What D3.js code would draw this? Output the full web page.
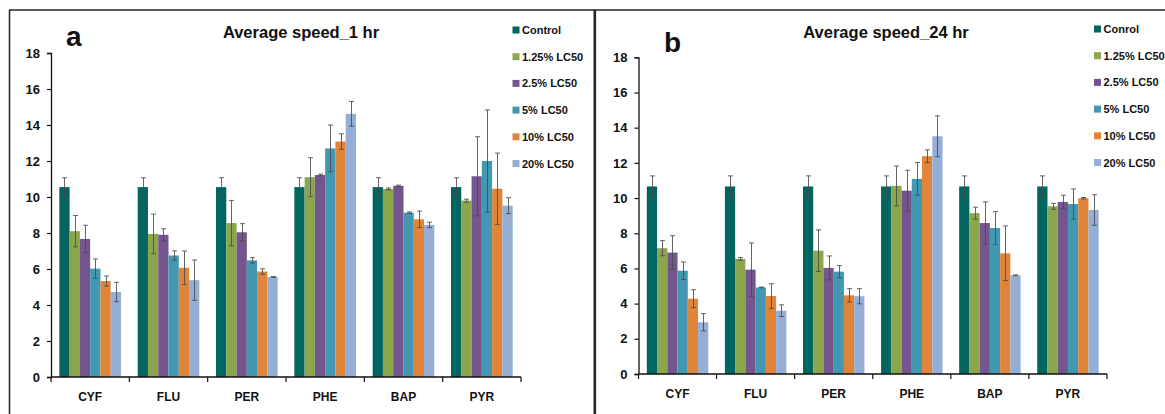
<!DOCTYPE html>
<html>
<head>
<meta charset="utf-8">
<script src="https://cdn.jsdelivr.net/npm/d3@7"></script>
<style>
  html, body { margin: 0; padding: 0; background: #fff; }
  svg { display: block; font-family: "Liberation Sans", Arial, sans-serif; }
</style>
</head>
<body>
<svg id="chart" width="1165" height="414"></svg>
<script>
// ---------- DATA ----------
const categories = ["CYF", "FLU", "PER", "PHE", "BAP", "PYR"];
const seriesA = ["Control", "1.25% LC50", "2.5% LC50", "5% LC50", "10% LC50", "20% LC50"];
const seriesB = ["Conrol", "1.25% LC50", "2.5% LC50", "5% LC50", "10% LC50", "20% LC50"];
const yTicks = [0, 2, 4, 6, 8, 10, 12, 14, 16, 18];
const colors = ["#00665f", "#8ba64d", "#73568e", "#4398b1", "#e0843a", "#94aed5"];

// Average speed 1 hr: one row per series, one value per category
const mean1h = [
  [10.55, 10.55, 10.55, 10.55, 10.55, 10.55],
  [8.1, 7.95, 8.55, 11.1, 10.45, 9.8],
  [7.67, 7.9, 8.04, 11.22, 10.62, 11.15],
  [6.02, 6.75, 6.48, 12.7, 9.13, 12.0],
  [5.33, 6.07, 5.86, 13.08, 8.76, 10.46],
  [4.72, 5.38, 5.56, 14.62, 8.45, 9.52]
];
const err1h = [
  [0.52, 0.52, 0.52, 0.52, 0.52, 0.52],
  [0.87, 1.1, 1.26, 1.08, 0.05, 0.08],
  [0.76, 0.33, 0.48, 0.05, 0.04, 2.2],
  [0.54, 0.26, 0.15, 1.3, 0.04, 2.84],
  [0.28, 0.93, 0.15, 0.43, 0.46, 1.98],
  [0.54, 1.12, 0.02, 0.69, 0.15, 0.44]
];

// Average speed 24 hr
const mean24h = [
  [10.66, 10.66, 10.66, 10.66, 10.66, 10.66],
  [7.15, 6.54, 7.01, 10.69, 9.14, 9.53],
  [6.9, 5.93, 6.03, 10.42, 8.58, 9.78],
  [5.87, 4.92, 5.82, 11.09, 8.3, 9.66],
  [4.28, 4.43, 4.47, 12.38, 6.86, 9.99],
  [2.94, 3.6, 4.42, 13.51, 5.61, 9.32]
];
const err24h = [
  [0.6, 0.6, 0.6, 0.6, 0.6, 0.6],
  [0.43, 0.08, 1.18, 1.13, 0.34, 0.17],
  [0.96, 1.52, 0.68, 1.16, 1.2, 0.38],
  [0.5, 0.02, 0.34, 0.93, 0.93, 0.86],
  [0.51, 0.7, 0.38, 0.36, 1.55, 0.04],
  [0.49, 0.33, 0.43, 1.16, 0.02, 0.87]
];

// ---------- DRAW ----------
const svg = d3.select("#chart");

// frames
svg.append("line").attr("x1", 9.5).attr("x2", 9.5).attr("y1", 10).attr("y2", 414)
  .attr("stroke", "#222").attr("stroke-width", 1.5);
svg.append("line").attr("x1", 9).attr("x2", 1165).attr("y1", 10).attr("y2", 10)
  .attr("stroke", "#222").attr("stroke-width", 1.5);
svg.append("line").attr("x1", 594.8).attr("x2", 594.8).attr("y1", 10).attr("y2", 414)
  .attr("stroke", "#222").attr("stroke-width", 2.6);

function panel(opts) {
  const g = svg.append("g");
  const x = d3.scaleBand().domain(categories).range([opts.x0, opts.x1])
    .paddingInner(0.213).paddingOuter(0.1065);
  const xs = d3.scaleBand().domain(d3.range(opts.series.length)).range([0, x.bandwidth()]);
  const y = d3.scaleLinear().domain([0, 18]).range([opts.y0, opts.y18]);

  // bars
  opts.means.forEach((row, si) => {
    g.append("g").selectAll("rect").data(categories).join("rect")
      .attr("x", c => x(c) + xs(si))
      .attr("width", xs.bandwidth())
      .attr("y", (c, ci) => y(row[ci]))
      .attr("height", (c, ci) => y(0) - y(row[ci]))
      .attr("fill", colors[si]);
  });
  // error bars
  opts.means.forEach((row, si) => {
    const eg = g.append("g").attr("stroke", "#4a4a4a").attr("stroke-width", 1).attr("stroke-opacity", 0.85);
    categories.forEach((c, ci) => {
      const cx = Math.round(x(c) + xs(si) + xs.bandwidth() / 2) + 0.5;
      const hi = y(row[ci] + opts.errs[si][ci]);
      const lo = y(row[ci] - opts.errs[si][ci]);
      eg.append("line").attr("x1", cx).attr("x2", cx).attr("y1", hi).attr("y2", lo);
      eg.append("line").attr("x1", cx - 2.5).attr("x2", cx + 2.5).attr("y1", hi).attr("y2", hi);
      eg.append("line").attr("x1", cx - 2.5).attr("x2", cx + 2.5).attr("y1", lo).attr("y2", lo);
    });
  });

  // y axis
  const ya = g.append("g").attr("transform", `translate(${opts.x0},0)`)
    .call(d3.axisLeft(y).tickValues(yTicks).tickSize(4).tickPadding(7).tickFormat(d3.format("d")));
  ya.select(".domain").attr("stroke", "#111").attr("stroke-width", 1.3);
  ya.selectAll(".tick line").attr("stroke", "#111").attr("stroke-width", 1.2);
  ya.selectAll("text").attr("font-size", 13).attr("font-weight", "bold")
    .attr("font-family", "Liberation Sans, Arial, sans-serif").attr("fill", "#111");

  // x axis with boundary ticks
  const xa = g.append("g").attr("transform", `translate(0,${opts.y0})`);
  xa.append("line").attr("x1", opts.x0).attr("x2", opts.x1).attr("y1", 0).attr("y2", 0)
    .attr("stroke", "#111").attr("stroke-width", 1.5);
  const bounds = categories.map(c => x(c) - x.step() * x.paddingInner() / 2).concat([opts.x1]);
  xa.selectAll("line.tk").data(bounds).join("line").attr("class", "tk")
    .attr("x1", d => d).attr("x2", d => d).attr("y1", 0).attr("y2", 5)
    .attr("stroke", "#111").attr("stroke-width", 1.2);
  xa.selectAll("text").data(categories).join("text")
    .attr("x", c => x(c) + x.bandwidth() / 2).attr("y", 24)
    .attr("text-anchor", "middle").attr("font-size", 12).attr("font-weight", "bold")
    .attr("fill", "#111").text(c => c);

  // title
  g.append("text").attr("x", opts.titleX).attr("y", 38).attr("text-anchor", "middle")
    .attr("font-size", 16.5).attr("font-weight", "bold").attr("fill", "#111").text(opts.title);
  // panel letter
  g.append("text").attr("x", opts.letterX).attr("y", opts.letterY)
    .attr("font-size", 28).attr("font-weight", "bold").attr("fill", "#111").text(opts.letter);

  // legend
  const lg = g.append("g");
  opts.series.forEach((s, i) => {
    const yy = opts.legY + i * 26.7;
    lg.append("rect").attr("x", opts.legX).attr("y", yy - 3.5).attr("width", 7).attr("height", 7)
      .attr("fill", colors[i]);
    lg.append("text").attr("x", opts.legX + 9.5).attr("y", yy + 4)
      .attr("font-size", 11).attr("font-weight", "bold").attr("fill", "#111").text(s);
  });
}

panel({
  x0: 51, x1: 521, y0: 377, y18: 53,
  means: mean1h, errs: err1h, series: seriesA,
  title: "Average speed_1 hr", titleX: 301,
  letter: "a", letterX: 66, letterY: 46,
  legX: 512.5, legY: 30
});
panel({
  x0: 638.5, x1: 1107, y0: 374, y18: 57.3,
  means: mean24h, errs: err24h, series: seriesB,
  title: "Average speed_24 hr", titleX: 886,
  letter: "b", letterX: 664, letterY: 52,
  legX: 1094, legY: 29
});
</script>
</body>
</html>
